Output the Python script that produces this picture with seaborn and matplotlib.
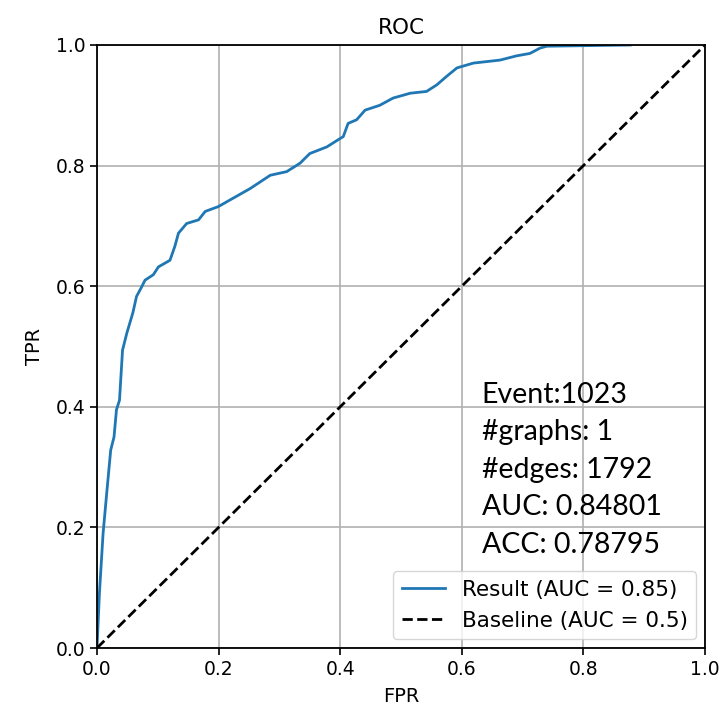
import matplotlib
matplotlib.use("Agg")
import matplotlib.pyplot as plt
import seaborn as sns
import pandas as pd

# ROC curve points
fpr = [0.0, 0.004, 0.010, 0.016, 0.0225, 0.028, 0.032, 0.037, 0.042, 0.049, 0.059,
       0.065, 0.0735, 0.079, 0.0926, 0.101, 0.120, 0.128, 0.134, 0.1475, 0.167,
       0.178, 0.1995, 0.224, 0.252, 0.285, 0.312, 0.334, 0.350, 0.378, 0.400,
       0.405, 0.413, 0.427, 0.441, 0.465, 0.487, 0.515, 0.542, 0.559, 0.575,
       0.592, 0.619, 0.663, 0.690, 0.712, 0.729, 0.740, 0.877]
tpr = [0.0, 0.091, 0.19, 0.257, 0.328, 0.35, 0.395, 0.411, 0.494, 0.522, 0.556,
       0.583, 0.599, 0.610, 0.619, 0.632, 0.643, 0.666, 0.688, 0.704, 0.710,
       0.724, 0.732, 0.746, 0.762, 0.784, 0.790, 0.804, 0.820, 0.831, 0.845,
       0.848, 0.870, 0.876, 0.892, 0.900, 0.912, 0.920, 0.923, 0.934, 0.948,
       0.962, 0.970, 0.975, 0.982, 0.986, 0.995, 0.998, 1.0]
baseline_x = [0.0, 1.0]
baseline_y = [0.0, 1.0]

result_label = "Result (AUC = 0.85)"
baseline_label = "Baseline (AUC = 0.5)"
info_lines = ["Event:1023", "#graphs: 1", "#edges: 1792", "AUC: 0.84801", "ACC: 0.78795"]

df = pd.DataFrame({"FPR": fpr, "TPR": tpr})
base = pd.DataFrame({"FPR": baseline_x, "TPR": baseline_y})

fig = plt.figure(figsize=(7.23, 7.12), dpi=100)
ax = fig.add_axes([97 / 723, 1 - 648 / 712, 608 / 723, 603 / 712])

sns.lineplot(data=df, x="FPR", y="TPR", ax=ax, color="#1f77b4", linewidth=2.0,
             sort=False, estimator=None, label=result_label)
sns.lineplot(data=base, x="FPR", y="TPR", ax=ax, color="black", linewidth=2.0,
             linestyle="--", sort=False, estimator=None, label=baseline_label)

ax.set_xlim(0, 1)
ax.set_ylim(0, 1)
ax.grid(True, color="#b0b0b0", linewidth=1.2)
ax.set_axisbelow(True)
ax.tick_params(labelsize=13.5, length=5, width=1.2)
for s in ax.spines.values():
    s.set_linewidth(1.3)
ax.set_xlabel("FPR", fontsize=14, labelpad=6)
ax.set_ylabel("TPR", fontsize=14, labelpad=8)
ax.set_title("ROC", fontsize=15.5, pad=8)

ax.text(0.633, 0.158, "\n".join(info_lines), transform=ax.transAxes,
        fontsize=20.5, family=["Lato", "DejaVu Sans"], va="baseline", ha="left",
        linespacing=1.55)

leg = ax.legend(loc="lower right", prop={"family": "DejaVu Sans", "size": 15.5},
                handlelength=2.0, borderaxespad=0.4)
for h in leg.get_lines():
    h.set_linewidth(2.0)

fig.savefig("out.png", dpi=100)
